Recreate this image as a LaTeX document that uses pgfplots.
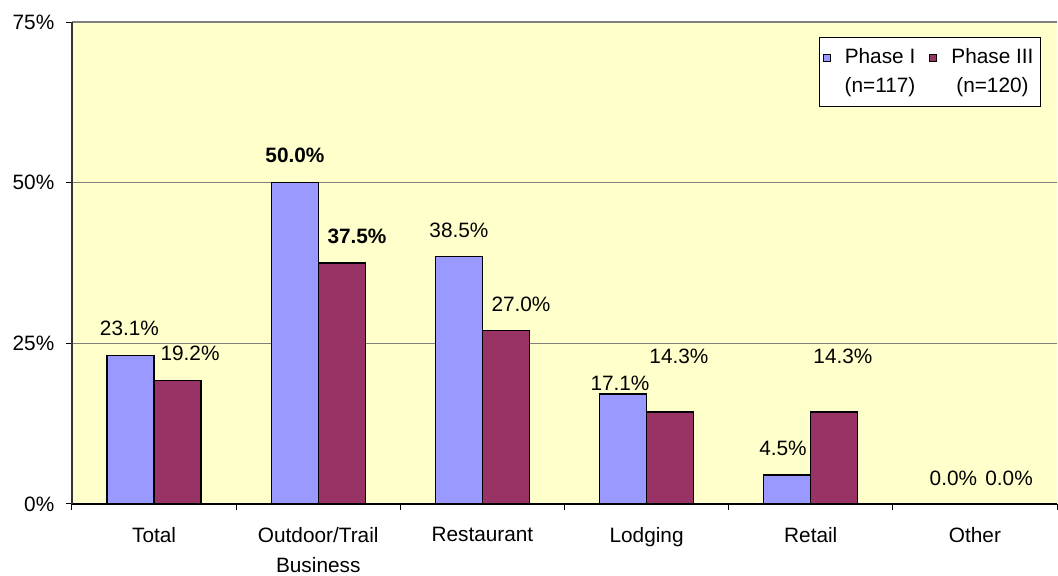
\documentclass[border=0pt]{standalone}
\usepackage{fontspec}
\setmainfont{Liberation Sans}
\usepackage{pgfplots}
\pgfplotsset{compat=1.18}
\definecolor{bgyellow}{HTML}{FFFFCC}
\definecolor{phaseI}{HTML}{9999FF}
\definecolor{phaseIII}{HTML}{993366}
\definecolor{gridgray}{HTML}{808080}
\pgfplotsset{sqlegend/.style={legend image code/.code={\draw[##1, line width=0.5pt, draw=black] (0pt,5.5pt) rectangle (3.5pt,9pt);}}}
\begin{document}
\fontsize{10.4}{12.5}\selectfont
\begin{tikzpicture}
\path[use as bounding box] (-36pt,-36pt) rectangle (493pt,252pt);
\begin{axis}[
  at={(0,0)}, anchor=south west,
  scale only axis,
  width=492.5pt, height=241pt,
  xmin=-0.5, xmax=5.5,
  ymin=0, ymax=75,
  axis x line*=bottom,
  axis y line*=left,
  axis line style={-},
  x axis line style={black, line width=0.6pt},
  y axis line style={black!80, line width=0.6pt},
  axis background/.style={fill=bgyellow},
  tick align=outside,
  major tick length=3pt,
  tick style={black, line width=0.5pt},
  ytick={0,25,50,75},
  yticklabels={0\%,25\%,50\%,75\%},
  yticklabel style={xshift=-2.2pt, font=\fontsize{10.4}{12.5}\selectfont},
  ymajorgrids,
  major grid style={gridgray, line width=0.6pt},
  xtick={-0.5,0.5,1.5,2.5,3.5,4.5,5.5},
  xticklabels={{},{},{},{},{},{},{}},
  extra x ticks={0,1,2,3,4,5},
  extra x tick labels={Total,Outdoor/Trail\\Business,Restaurant,Lodging,Retail,Other},
  extra x tick style={major tick length=0pt, grid=none,
     xticklabel style={align=center, yshift=-8pt, font=\fontsize{10.4}{15}\selectfont}},
  legend style={at={(rel axis cs:1,1)}, anchor=north east, xshift=-8pt, yshift=-7.5pt,
     draw=black, line width=0.5pt, fill=white,
     font=\fontsize{10.4}{14.5}\selectfont,
     cells={align=center},
     legend columns=2,
     /tikz/every odd column/.append style={column sep=5pt},
     /tikz/every even column/.append style={column sep=5pt},
     inner xsep=1.5pt, inner ysep=3.5pt},
]
\addplot[ybar, bar width=23.5pt, bar shift=-11.75pt, fill=phaseI, draw=black, line width=0.7pt, sqlegend]
  coordinates {(0,23.1) (1,50.0) (2,38.5) (3,17.1) (4,4.5) (5,0)};
\addlegendentry{Phase I\\(n=117)}
\addplot[ybar, bar width=23.5pt, bar shift=11.75pt, fill=phaseIII, draw=black, line width=0.7pt, sqlegend]
  coordinates {(0,19.2) (1,37.5) (2,27.0) (3,14.3) (4,14.3) (5,0)};
\addlegendentry{Phase III\\(n=120)}
\addplot[forget plot, draw=none, mark=none, nodes near coords, point meta=explicit symbolic,
  every node near coord/.append style={anchor=center, inner sep=0pt, black, font=\fontsize{10.4}{12.5}\selectfont}]
  coordinates {
  (-0.150,27.4)[23.1\%]
  (0.219,23.5)[19.2\%]
  (0.858,54.2)[\textbf{50.0\%}]
  (1.236,41.7)[\textbf{37.5\%}]
  (1.857,42.6)[38.5\%]
  (2.235,31.1)[27.0\%]
  (2.838,18.7)[17.1\%]
  (3.197,22.9)[14.3\%]
  (3.831,8.7)[4.5\%]
  (4.196,22.9)[14.3\%]
  (4.869,4.0)[0.0\%]
  (5.208,4.0)[0.0\%]
  };
\end{axis}
\end{tikzpicture}
\end{document}
